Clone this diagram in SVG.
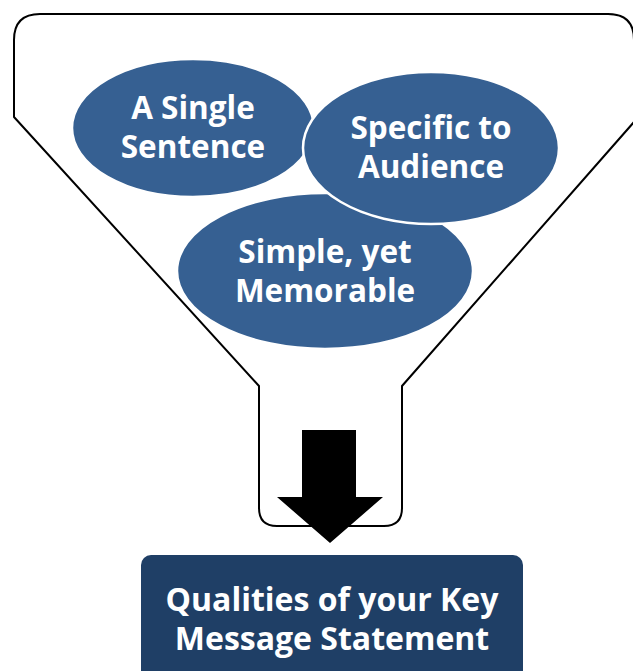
<svg xmlns="http://www.w3.org/2000/svg" width="633" height="671" viewBox="0 0 633 671">
<style>
.lbl{font-family:"Open Sans","Liberation Sans",sans-serif;font-weight:700;font-size:31.5px;fill:#ffffff;text-anchor:middle}
.ell{fill:#366092;stroke:#ffffff;stroke-width:2.5}
.funnel{fill:#ffffff;stroke:#000000;stroke-width:2;stroke-linejoin:round}
</style>
<rect width="633" height="671" fill="#ffffff"/>
<g id="funnel">
<path class="funnel" d="M14,117 L14,40 Q14,14 40,14 L608,14 Q634,14 634,40 L634,122 L402,386 L402,508 Q402,526 384,526 L277,526 Q259,526 259,508 L259,386 Z"/>
</g>
<g id="node-simple">
<ellipse class="ell" cx="325" cy="271" rx="148" ry="78"/>
<text class="lbl" x="325" y="263">Simple, yet</text>
<text class="lbl" x="325" y="302">Memorable</text>
</g>
<g id="node-single">
<ellipse class="ell" cx="193" cy="128" rx="121" ry="69"/>
<text class="lbl" x="193" y="119">A Single</text>
<text class="lbl" x="193" y="158">Sentence</text>
</g>
<g id="node-specific">
<ellipse class="ell" cx="431" cy="148" rx="128" ry="76"/>
<text class="lbl" x="431" y="139">Specific to</text>
<text class="lbl" x="431" y="178">Audience</text>
</g>
<g id="connectors">
<polygon points="302,430 356,430 356,497 383,497 330,543 277,497 302,497" fill="#000000"/>
</g>
<g id="node-qualities">
<rect x="141" y="555" width="382" height="130" rx="10" fill="#1f3f66"/>
<text class="lbl" x="332" y="611" style="font-size:32px">Qualities of your Key</text>
<text class="lbl" x="332" y="650" style="font-size:32px">Message Statement</text>
</g>
</svg>
